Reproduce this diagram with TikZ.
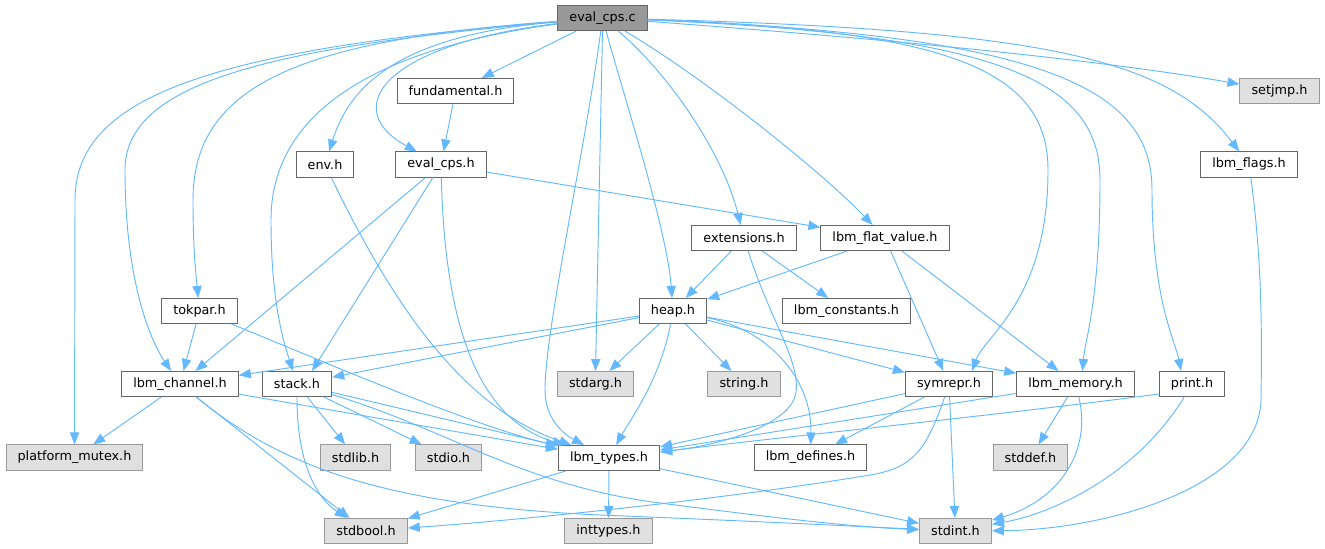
\documentclass[tikz,border=0pt]{standalone}
\usepackage{fontspec}
\setmainfont{DejaVu Sans}
\usepackage{xcolor}
\usepackage{tikz}
\usetikzlibrary{arrows.meta,calc}

\definecolor{edgeblue}{HTML}{63B8FF}
\definecolor{boxline}{HTML}{666666}
\definecolor{sysline}{HTML}{999999}
\definecolor{sysfill}{HTML}{E0E0E0}
\definecolor{rootfill}{HTML}{999999}

\tikzset{
  hfile/.style={draw=boxline, fill=white, line width=0.75pt, minimum height=18.8pt,
    inner xsep=8.7pt, inner ysep=0pt, font=\fontsize{9.6}{11}\selectfont},
  sysfile/.style={hfile, draw=sysline, fill=sysfill},
  rootfile/.style={hfile, fill=rootfill},
  dep/.style={draw=edgeblue, line width=0.7pt, -{Triangle[length=9pt,width=7pt]}}
}

\begin{document}
\begin{tikzpicture}[x=0.75pt,y=-0.75pt]
				\useasboundingbox (0,0) rectangle (1325,549);
				\node[rootfile] (evalc) at (602.5,18) {eval\_cps.c};
				\node[hfile] (fund) at (455.5,91) {fundamental.h};
				\node[sysfile] (setjmp) at (1279.5,91) {setjmp.h};
				\node[hfile] (env) at (325,164.5) {env.h};
				\node[hfile] (evalh) at (441,164.5) {eval\_cps.h};
				\node[hfile] (flags) at (1249,164.5) {lbm\_flags.h};
				\node[hfile] (ext) at (744,238) {extensions.h};
				\node[hfile] (flat) at (885,238) {lbm\_flat\_value.h};
				\node[hfile] (tokpar) at (199.5,311) {tokpar.h};
				\node[hfile] (heap) at (673,311) {heap.h};
				\node[hfile] (const) at (846.5,311) {lbm\_constants.h};
				\node[hfile] (channel) at (180,384) {lbm\_channel.h};
				\node[hfile] (stack) at (297,384) {stack.h};
				\node[sysfile] (stdarg) at (595.5,384) {stdarg.h};
				\node[sysfile] (string) at (744,384) {string.h};
				\node[hfile] (symrepr) at (949,384) {symrepr.h};
				\node[hfile] (memory) at (1075.5,384) {lbm\_memory.h};
				\node[hfile] (print) at (1192,384) {print.h};
				\node[sysfile] (mutex) at (74.5,457.5) {platform\_mutex.h};
				\node[sysfile] (stdlib) at (355.5,457.5) {stdlib.h};
				\node[sysfile] (stdio) at (448.5,457.5) {stdio.h};
				\node[hfile] (types) at (609,458) {lbm\_types.h};
				\node[hfile] (defines) at (810.5,457.5) {lbm\_defines.h};
				\node[sysfile] (stddef) at (1030.5,457.5) {stddef.h};
				\node[sysfile] (stdbool) at (366,531) {stdbool.h};
				\node[sysfile] (inttypes) at (608.5,531) {inttypes.h};
				\node[sysfile] (stdint) at (955.5,531) {stdint.h};

				\draw[dep] (evalc) .. controls (200,50) and (75,100) .. (75,200) -- (mutex);
				\draw[dep] (evalc) .. controls (260,48) and (125,85) .. (125,170) .. controls (125,280) and (150,340) .. (channel);
				\draw[dep] (evalc) .. controls (300,40) and (193,85) .. (193,200) .. controls (193,250) and (196,275) .. (tokpar);
				\draw[dep] (evalc) .. controls (400,45) and (271,100) .. (271,220) .. controls (271,300) and (283,340) .. (stack);
				\draw[dep] (evalc) .. controls (400,35) and (350,85) .. (env);
				\draw[dep] (evalc) .. controls (380,45) and (340,110) .. (evalh);
				\draw[dep] (evalc) -- (fund);
				\draw[dep] (fund) -- (evalh);
				\draw[dep] (evalc) .. controls (585,150) and (545,330) .. (545,390) .. controls (545,420) and (565,435) .. (types);
				\draw[dep] (evalc.south) -- (stdarg.north);
				\draw[dep] (evalc) .. controls (625,100) and (667,230) .. (heap);
				\draw[dep] (evalc) .. controls (665,70) and (722,150) .. (ext);
				\draw[dep] (evalc) .. controls (700,75) and (820,170) .. (flat);
				\draw[dep] (evalc) .. controls (950,30) and (1048,70) .. (1048,170) .. controls (1048,300) and (985,335) .. ($(symrepr.north)+(23,0)$);
				\draw[dep] (evalc) .. controls (1000,35) and (1100,80) .. (1100,180) .. controls (1100,300) and (1085,340) .. ($(memory.north)+(7,0)$);
				\draw[dep] (evalc) .. controls (1050,35) and (1152,90) .. (1152,190) .. controls (1152,300) and (1175,340) .. ($(print.north)+(-11,0)$);
				\draw[dep] (evalc) .. controls (1050,30) and (1170,60) .. (flags);
				\draw[dep] (evalc) .. controls (900,40) and (1100,60) .. (setjmp);

				\draw[dep] (env) .. controls (400,320) and (470,410) .. (types);
				\draw[dep] (evalh) .. controls (445,330) and (480,420) .. (types);
				\draw[dep] (evalh) -- (channel);
				\draw[dep] (evalh) -- ($(stack.north)+(15,0)$);
				\draw[dep] (evalh) -- (flat);
				\draw[dep] (tokpar) -- (channel);
				\draw[dep] (tokpar) .. controls (320,360) and (470,425) .. (types);

				\draw[dep] (ext) -- (heap);
				\draw[dep] (ext) -- (const);
				\draw[dep] (ext) .. controls (770,320) and (800,360) .. (796,392) .. controls (792,425) and (720,445) .. (types);
				\draw[dep] (flat) -- (heap);
				\draw[dep] (flat) -- (symrepr);
				\draw[dep] (flat) -- (memory);

				\draw[dep] (heap) -- (channel);
				\draw[dep] (heap) -- (stack);
				\draw[dep] (heap) -- (stdarg);
				\draw[dep] (heap) -- (string);
				\draw[dep] (heap) .. controls (660,380) and (630,420) .. (types);
				\draw[dep] (heap) -- (symrepr);
				\draw[dep] (heap) -- (memory);
				\draw[dep] (heap) .. controls (770,330) and (812,380) .. (defines);

				\draw[dep] (channel) -- (mutex);
				\draw[dep] (channel) -- (types);
				\draw[dep] (channel) -- (stdbool);
				\draw[dep] (channel) .. controls (280,465) and (380,505) .. (600,515) .. controls (750,521) and (850,526) .. (stdint);
				\draw[dep] (stack) -- (types);
				\draw[dep] (stack) -- (stdlib);
				\draw[dep] (stack) -- (stdio);
				\draw[dep] (stack) .. controls (297,470) and (320,500) .. (stdbool);
				\draw[dep] (stack) .. controls (450,430) and (520,485) .. (660,503) .. controls (760,516) and (850,527) .. (stdint);

				\draw[dep] (symrepr) -- (types);
				\draw[dep] (symrepr) -- (defines);
				\draw[dep] (symrepr) .. controls (925,455) and (910,468) .. (870,475) .. controls (720,500) and (520,520) .. (stdbool);
				\draw[dep] (symrepr) -- (stdint);
				\draw[dep] (memory) -- (types);
				\draw[dep] (memory) -- (stddef);
				\draw[dep] (memory) .. controls (1092,450) and (1060,500) .. (stdint);
				\draw[dep] ($(print.west)+(0,10)$) .. controls (1000,415) and (800,435) .. (types);
				\draw[dep] (print) .. controls (1140,470) and (1060,512) .. (stdint);
				\draw[dep] (flags) .. controls (1262,260) and (1262,330) .. (1261,400) .. controls (1258,490) and (1100,530) .. (stdint);

				\draw[dep] (types) -- (stdbool);
				\draw[dep] (types) -- (inttypes);
				\draw[dep] (types) -- (stdint);
		\end{tikzpicture}
\end{document}
